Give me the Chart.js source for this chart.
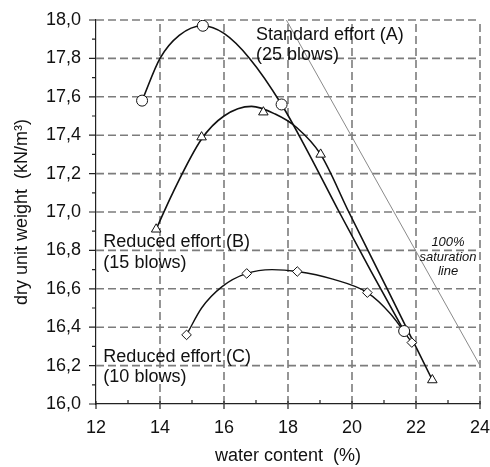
<!DOCTYPE html>
<html>
<head>
<meta charset="utf-8">
<script src="https://cdn.jsdelivr.net/npm/chart.js@4/dist/chart.umd.min.js"></script>
<style>
  html, body { margin: 0; padding: 0; background: #fff; }
  .chart-con { width: 490px; height: 467px; }
</style>
</head>
<body>
<div class="chart-con"><canvas id="myChart" width="490" height="467"></canvas></div>
<script>
// measured points (markers)
const pointsA_x = [13.44, 15.34, 17.8, 21.63];
const pointsA_y = [17.58, 17.97, 17.56, 16.38];
const pointsB_x = [13.88, 15.3, 17.23, 19.02, 22.51];
const pointsB_y = [16.91, 17.39, 17.52, 17.30, 16.125];
const pointsC_x = [14.83, 16.71, 18.29, 20.48, 21.87];
const pointsC_y = [16.36, 16.68, 16.69, 16.58, 16.32];

// fitted curves
const curveA_x = [13.44, 14.0, 14.6, 15.34, 16.0, 16.8, 17.8, 18.6, 19.6, 20.6, 21.63];
const curveA_y = [17.58, 17.80, 17.92, 17.97, 17.93, 17.80, 17.56, 17.32, 17.0, 16.69, 16.38];
const curveB_x = [13.88, 14.4, 15.3, 16.0, 16.86, 17.6, 18.27, 19.02, 19.9, 21.1, 22.51];
const curveB_y = [16.91, 17.10, 17.38, 17.50, 17.55, 17.51, 17.44, 17.30, 17.0, 16.6, 16.125];
const curveC_x = [14.83, 15.3, 15.93, 16.71, 17.5, 18.29, 19.4, 20.48, 21.2, 21.87];
const curveC_y = [16.36, 16.50, 16.61, 16.68, 16.70, 16.69, 16.65, 16.58, 16.47, 16.32];

// 100% saturation line
const saturation_x = [17.95, 24];
const saturation_y = [18.0, 16.2];

const xTicks = [12, 14, 16, 18, 20, 22, 24];
const yTicks = [16.0, 16.2, 16.4, 16.6, 16.8, 17.0, 17.2, 17.4, 17.6, 17.8, 18.0];

const labels = [
    { text: 'Standard effort (A)', x: 17.0, y: 17.896 },
    { text: '(25 blows)', x: 17.0, y: 17.79 },
    { text: 'Reduced effort (B)', x: 12.23, y: 16.82 },
    { text: '(15 blows)', x: 12.23, y: 16.71 },
    { text: 'Reduced effort (C)', x: 12.23, y: 16.22 },
    { text: '(10 blows)', x: 12.23, y: 16.113 }
];
const noteLines = ['100%', 'saturation', 'line'];
const noteY = [16.823, 16.746, 16.67];

const FONT = '"Liberation Sans", Arial, sans-serif';

function toXY(xs, ys) {
    return xs.map((x, i) => ({ x: x, y: ys[i] }));
}

function dashedLine(ctx, x1, y1, x2, y2, on, off) {
    const len = Math.hypot(x2 - x1, y2 - y1);
    const dx = (x2 - x1) / len, dy = (y2 - y1) / len;
    for (let d = 0; d < len; d += on + off) {
        const e = Math.min(d + on, len);
        ctx.moveTo(x1 + dx * d, y1 + dy * d);
        ctx.lineTo(x1 + dx * e, y1 + dy * e);
    }
}

// grid goes under the data
const gridPlugin = {
    id: 'dashGrid',
    beforeDatasetsDraw(chart) {
        const ctx = chart.ctx;
        const xs = chart.scales.x;
        const ys = chart.scales.y;
        const area = chart.chartArea;
        ctx.save();
        ctx.strokeStyle = '#7c7c7c';
        ctx.lineWidth = 1.6;
        ctx.beginPath();
        xTicks.slice(1).forEach(v => {
            const px = xs.getPixelForValue(v);
            dashedLine(ctx, px, area.bottom, px, area.top, 8, 4);
        });
        yTicks.slice(1).forEach(v => {
            const py = ys.getPixelForValue(v);
            dashedLine(ctx, area.left, py, area.right, py, 8, 4);
        });
        ctx.stroke();
        ctx.restore();
    }
};

const tickPlugin = {
    id: 'tickMarks',
    afterDraw(chart) {
        const ctx = chart.ctx;
        const xs = chart.scales.x;
        const ys = chart.scales.y;
        const area = chart.chartArea;
        ctx.save();
        ctx.strokeStyle = '#222';
        ctx.lineWidth = 1.2;
        ctx.beginPath();
        for (let i = 0; i <= 20; i++) {
            const py = ys.getPixelForValue(16 + i * 0.1);
            const len = i % 2 === 0 ? 7 : 4;
            ctx.moveTo(area.left - len, py);
            ctx.lineTo(area.left, py);
        }
        for (let i = 0; i <= 12; i++) {
            const px = xs.getPixelForValue(12 + i);
            if (i % 2 === 0) {
                ctx.moveTo(px, area.bottom - 3);
                ctx.lineTo(px, area.bottom + 5);
            } else {
                ctx.moveTo(px, area.bottom - 4);
                ctx.lineTo(px, area.bottom);
            }
        }
        ctx.stroke();

        // text labels
        ctx.fillStyle = '#111';
        ctx.font = '18px ' + FONT;
        ctx.textAlign = 'left';
        ctx.textBaseline = 'alphabetic';
        labels.forEach(l => {
            ctx.fillText(l.text, xs.getPixelForValue(l.x), ys.getPixelForValue(l.y));
        });
        ctx.font = 'italic 13px ' + FONT;
        ctx.textAlign = 'center';
        noteLines.forEach((t, i) => {
            ctx.fillText(t, xs.getPixelForValue(23.0), ys.getPixelForValue(noteY[i]));
        });
        ctx.restore();
    }
};

function createChart() {
    const ctx = document.getElementById('myChart').getContext('2d');
    const curve = { showLine: true, cubicInterpolationMode: 'monotone', pointRadius: 0, borderColor: '#111', borderWidth: 1.6, fill: false };
    new Chart(ctx, {
        type: 'scatter',
        data: {
            datasets: [
                { data: toXY(pointsA_x, pointsA_y), pointStyle: 'circle', pointRadius: 5.5, borderColor: '#111', backgroundColor: '#fff', borderWidth: 1 },
                { data: toXY(pointsB_x, pointsB_y), pointStyle: 'triangle', pointRadius: 5.5, borderColor: '#111', backgroundColor: '#fff', borderWidth: 1 },
                { data: toXY(pointsC_x, pointsC_y), pointStyle: 'rectRot', pointRadius: 4.8, borderColor: '#111', backgroundColor: '#fff', borderWidth: 1 },
                Object.assign({ data: toXY(curveA_x, curveA_y) }, curve),
                Object.assign({ data: toXY(curveB_x, curveB_y) }, curve),
                Object.assign({ data: toXY(curveC_x, curveC_y) }, curve, { borderWidth: 1.4 }),
                { data: toXY(saturation_x, saturation_y), showLine: true, pointRadius: 0, borderColor: '#8a8a8a', borderWidth: 1, fill: false }
            ]
        },
        options: {
            responsive: false,
            animation: false,
            layout: { padding: { top: 20, right: 10, left: 0, bottom: 0 } },
            plugins: { legend: { display: false }, tooltip: { enabled: false } },
            scales: {
                x: {
                    type: 'linear',
                    min: 12, max: 24,
                    afterBuildTicks: s => { s.ticks = xTicks.map(v => ({ value: v })); },
                    afterFit: s => { s.height = 63; s.paddingLeft = 0; s.paddingRight = 0; },
                    grid: { display: false, drawTicks: false },
                    border: { display: true, color: '#222', width: 1.2 },
                    ticks: { color: '#111', padding: 13, maxRotation: 0, font: { size: 18, family: FONT } },
                    title: { display: true, text: 'water content  (%)', color: '#111', padding: { top: 0, bottom: 0 }, font: { size: 18, family: FONT } }
                },
                y: {
                    type: 'linear',
                    min: 16, max: 18,
                    afterBuildTicks: s => { s.ticks = yTicks.map(v => ({ value: v })); },
                    afterFit: s => { s.width = 96; s.paddingTop = 0; s.paddingBottom = 0; },
                    grid: { display: false, drawTicks: false },
                    border: { display: true, color: '#222', width: 1.2 },
                    ticks: {
                        color: '#111', padding: 15, font: { size: 18, family: FONT },
                        callback: v => Number(v).toFixed(1).replace('.', ',')
                    },
                    title: { display: true, text: 'dry unit weight  (kN/m³)', color: '#111', padding: { top: 11, bottom: 0 }, font: { size: 18, family: FONT } }
                }
            }
        },
        plugins: [gridPlugin, tickPlugin]
    });
}

createChart();
</script>
</body>
</html>
